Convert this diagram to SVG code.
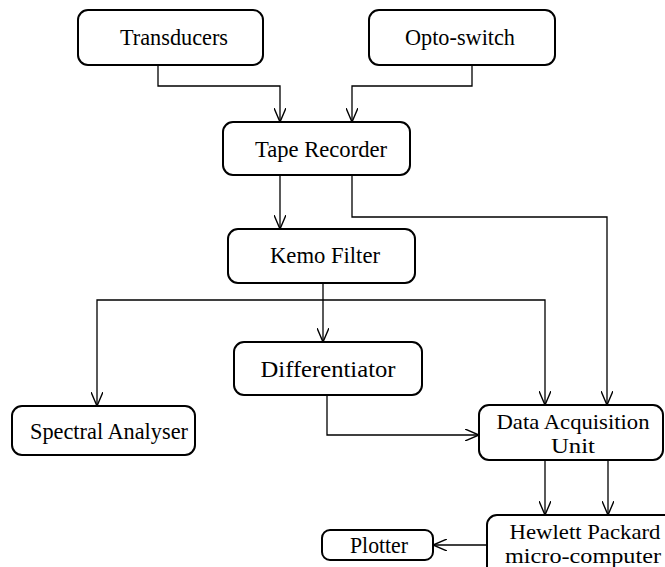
<svg xmlns="http://www.w3.org/2000/svg" width="665" height="567" viewBox="0 0 665 567">
<style>
.box{fill:#fff;stroke:#000;stroke-width:2}
.lbl{font-family:"Liberation Serif","Times New Roman",serif;font-size:24px;fill:#000;text-anchor:middle}
.two{font-size:21px}
.con{fill:none;stroke:#000;stroke-width:1.3}
</style>
<defs>
<marker id="arr" viewBox="0 0 14 12" refX="14" refY="6" markerWidth="14" markerHeight="12" markerUnits="userSpaceOnUse" orient="auto">
<path d="M0,0 L14,6 L0,12" fill="none" stroke="#000" stroke-width="1.4"/>
</marker>
</defs>
<rect width="665" height="567" fill="#fff"/>
<g id="connectors">
<path class="con" d="M158,65 V86 H280 V122" marker-end="url(#arr)"/>
<path class="con" d="M472,65 V86 H352 V122" marker-end="url(#arr)"/>
<path class="con" d="M280,175 V229" marker-end="url(#arr)"/>
<path class="con" d="M352,175 V217 H607 V405" marker-end="url(#arr)"/>
<path class="con" d="M323,283 V342" marker-end="url(#arr)"/>
<path class="con" d="M323,300 H97 V406" marker-end="url(#arr)"/>
<path class="con" d="M323,300 H545 V405" marker-end="url(#arr)"/>
<path class="con" d="M327,395 V435 H479" marker-end="url(#arr)"/>
<path class="con" d="M545,460 V515" marker-end="url(#arr)"/>
<path class="con" d="M608,460 V515" marker-end="url(#arr)"/>
<path class="con" d="M487,545 H433" marker-end="url(#arr)"/>
</g>
<g id="transducers">
<rect class="box" x="78" y="10" width="185" height="55" rx="10"/>
<text class="lbl" x="174" y="45" textLength="108" lengthAdjust="spacingAndGlyphs">Transducers</text>
</g>
<g id="opto-switch">
<rect class="box" x="369" y="10" width="186" height="55" rx="10"/>
<text class="lbl" x="460" y="45" textLength="110" lengthAdjust="spacingAndGlyphs">Opto-switch</text>
</g>
<g id="tape-recorder">
<rect class="box" x="223" y="122" width="187" height="53" rx="10"/>
<text class="lbl" x="321" y="157" textLength="132" lengthAdjust="spacingAndGlyphs">Tape Recorder</text>
</g>
<g id="kemo-filter">
<rect class="box" x="228" y="229" width="187" height="54" rx="10"/>
<text class="lbl" x="325" y="263" textLength="110" lengthAdjust="spacingAndGlyphs">Kemo Filter</text>
</g>
<g id="differentiator">
<rect class="box" x="234" y="342" width="188" height="53" rx="10"/>
<text class="lbl" x="328" y="377" textLength="135" lengthAdjust="spacingAndGlyphs">Differentiator</text>
</g>
<g id="spectral-analyser">
<rect class="box" x="12" y="406" width="183" height="49" rx="10"/>
<text class="lbl" x="109" y="439" textLength="158" lengthAdjust="spacingAndGlyphs">Spectral Analyser</text>
</g>
<g id="data-acquisition-unit">
<rect class="box" x="479" y="405" width="184" height="55" rx="10"/>
<text class="lbl two" x="573" y="429" textLength="153" lengthAdjust="spacingAndGlyphs">Data Acquisition</text>
<text class="lbl two" x="573" y="453" textLength="44" lengthAdjust="spacingAndGlyphs">Unit</text>
</g>
<g id="hewlett-packard">
<rect class="box" x="487" y="515" width="200" height="70" rx="10"/>
<text class="lbl two" x="585" y="539" textLength="151" lengthAdjust="spacingAndGlyphs">Hewlett Packard</text>
<text class="lbl two" x="583" y="563" textLength="156" lengthAdjust="spacingAndGlyphs">micro-computer</text>
</g>
<g id="plotter">
<rect class="box" x="322" y="530" width="111" height="30" rx="8"/>
<text class="lbl" x="379" y="553" textLength="58" lengthAdjust="spacingAndGlyphs">Plotter</text>
</g>
</svg>
